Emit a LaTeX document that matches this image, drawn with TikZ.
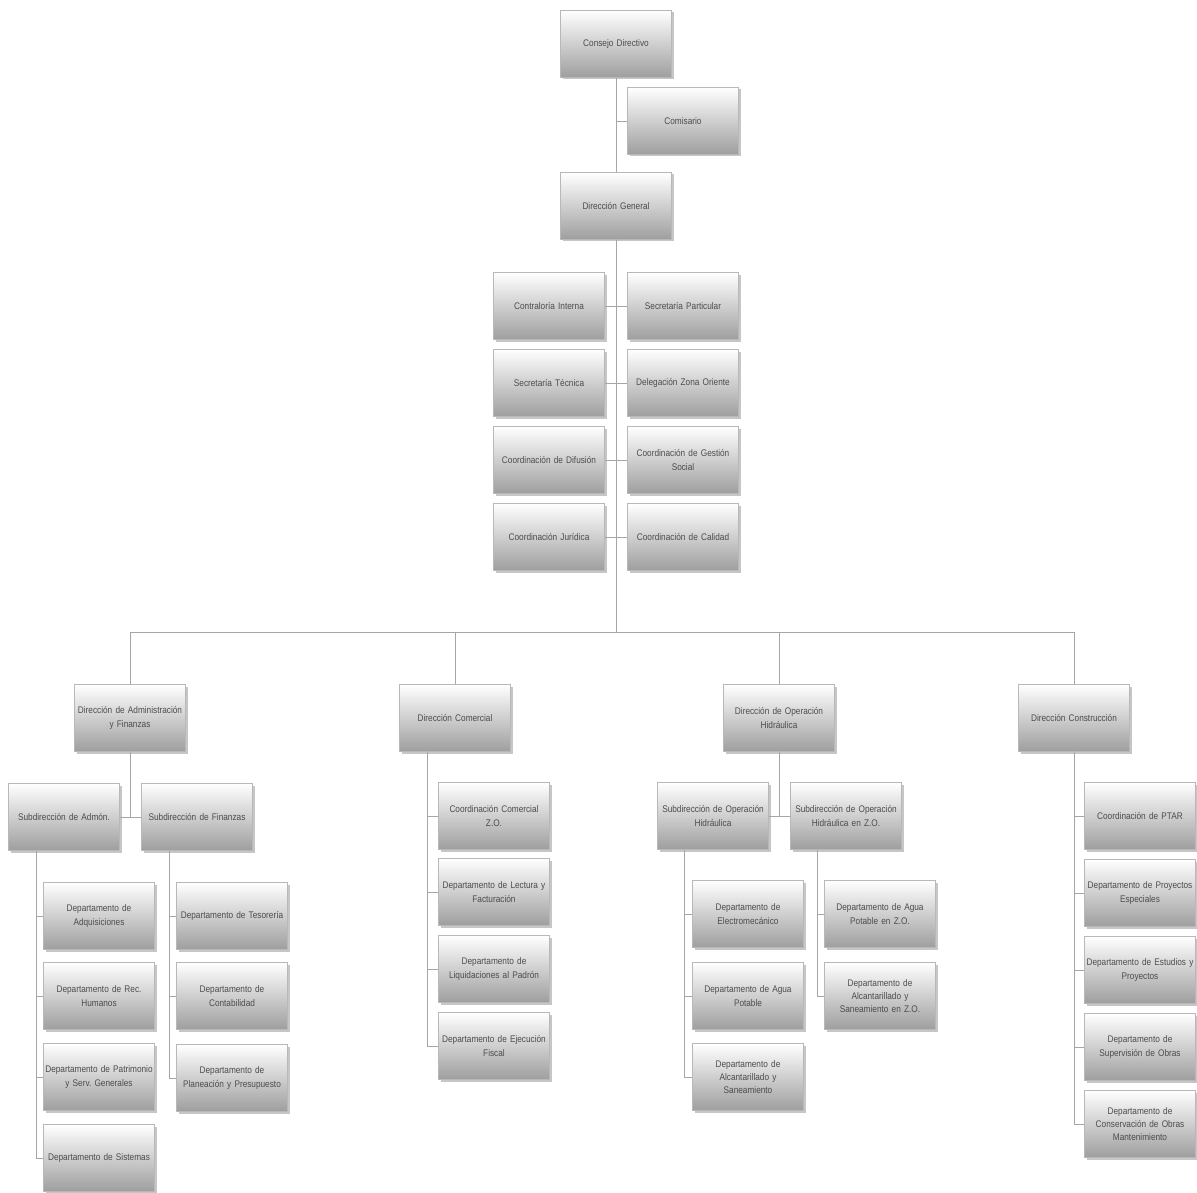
\documentclass[tikz,border=0pt]{standalone}
\usepackage{fontspec}
\setmainfont{Liberation Sans}[FakeStretch=0.86]
\frenchspacing
\usetikzlibrary{shadows,positioning}
\colorlet{gris}{black!35}
\colorlet{texto}{black!70}
\tikzset{
  caja/.style={draw=black!28, line width=0.6pt, top color=white, bottom color=black!38,
    minimum width=111pt, minimum height=67pt, text width=110pt, inner sep=0.5pt,
    align=center, text=texto, font=\fontsize{9.6}{13.3}\selectfont,
    drop shadow={shadow xshift=2pt, shadow yshift=-2pt, opacity=0.45}},
  linea/.style={draw=gris, line width=0.9pt}
}

\begin{document}
\begin{tikzpicture}[x=1pt,y=-1pt]
        \useasboundingbox (0,0) rectangle (1197,1193);
        \coordinate (bus) at (616,632);
        % cabeza
        \node [caja] (cd) at (616,44) {Consejo Directivo};
        \node [caja] (com) at (683,121) {Comisario};
        \node [caja] (dg) at (616,206) {Dirección General};
        % staff
        \node [caja] (ci) at (549,306) {Contraloría Interna};
        \node [caja] (sp) at (683,306) {Secretaría Particular};
        \node [caja] (st) at (549,383) {Secretaría Técnica};
        \node [caja] (dzo) at (683,383) {Delegación Zona Oriente};
        \node [caja] (cdf) at (549,460) {Coordinación de Difusión};
        \node [caja] (cgs) at (683,460) {Coordinación de Gestión\\ Social};
        \node [caja] (cj) at (549,537) {Coordinación Jurídica};
        \node [caja] (cc) at (683,537) {Coordinación de Calidad};
        % direcciones
        \node [caja] (da) at (130,718) {Dirección de Administración\\ y Finanzas};
        \node [caja] (dc) at (455,718) {Dirección Comercial};
        \node [caja] (doh) at (779,718) {Dirección de Operación\\ Hidráulica};
        \node [caja] (dcon) at (1074,718) {Dirección Construcción};
        % administracion y finanzas
        \node [caja] (sa) at (64,817) {Subdirección de Admón.};
        \node [caja] (sf) at (197,817) {Subdirección de Finanzas};
        \node [caja] (adq) at (99,916) {Departamento de\\ Adquisiciones};
        \node [caja] (rh) at (99,996) {Departamento de Rec.\\ Humanos};
        \node [caja] (pat) at (99,1077) {Departamento de Patrimonio\\ y Serv. Generales};
        \node [caja] (sis) at (99,1158) {Departamento de Sistemas};
        \node [caja] (tes) at (232,916) {Departamento de Tesorería};
        \node [caja] (con) at (232,996) {Departamento de\\ Contabilidad};
        \node [caja] (pp) at (232,1078) {Departamento de\\ Planeación y Presupuesto};
        % comercial
        \node [caja] (ccz) at (494,816) {Coordinación Comercial\\ Z.O.};
        \node [caja] (lf) at (494,892) {Departamento de Lectura y\\ Facturación};
        \node [caja] (lp) at (494,969) {Departamento de\\ Liquidaciones al Padrón};
        \node [caja] (ef) at (494,1046) {Departamento de Ejecución\\ Fiscal};
        % operacion hidraulica
        \node [caja] (soh) at (713,816) {Subdirección de Operación\\ Hidráulica};
        \node [caja] (sohz) at (846,816) {Subdirección de Operación\\ Hidráulica en Z.O.};
        \node [caja] (ele) at (748,914) {Departamento de\\ Electromecánico};
        \node [caja] (ap) at (748,996) {Departamento de Agua\\ Potable};
        \node [caja] (als) at (748,1077) {Departamento de\\ Alcantarillado y\\ Saneamiento};
        \node [caja] (apz) at (880,914) {Departamento de Agua\\ Potable en Z.O.};
        \node [caja] (alz) at (880,996) {Departamento de\\ Alcantarillado y\\ Saneamiento en Z.O.};
        % construccion
        \node [caja] (ptar) at (1140,816) {Coordinación de PTAR};
        \node [caja] (pe) at (1140,893) {Departamento de Proyectos\\ Especiales};
        \node [caja] (ep) at (1140,970) {Departamento de Estudios y\\ Proyectos};
        \node [caja] (so) at (1140,1047) {Departamento de\\ Supervisión de Obras};
        \node [caja] (cons) at (1140,1124) {Departamento de\\ Conservación de Obras\\ Mantenimiento};
        % lineas
        \draw [linea] (cd) -- (dg);
        \draw [linea] (com.west) -- (com.west -| cd);
        \draw [linea] (dg) -- (bus);
        \foreach \a/\b in {ci/sp,st/dzo,cdf/cgs,cj/cc}
          \draw [linea] (\a) -- (\b);
        \foreach \d in {da,dc,doh,dcon}
          \draw [linea] (bus) -| (\d);
        \draw [linea] (da) -- (da |- sa);
        \draw [linea] (sa) -- (sf);
        \draw [linea] (doh) -- (doh |- soh);
        \draw [linea] (soh) -- (sohz);
        \foreach \n in {adq,rh,pat,sis}
          \draw [linea] ([xshift=28pt]sa.south west) |- (\n);
        \foreach \n in {tes,con,pp}
          \draw [linea] ([xshift=28pt]sf.south west) |- (\n);
        \foreach \n in {ccz,lf,lp,ef}
          \draw [linea] ([xshift=28pt]dc.south west) |- (\n);
        \foreach \n in {ele,ap,als}
          \draw [linea] ([xshift=27pt]soh.south west) |- (\n);
        \foreach \n in {apz,alz}
          \draw [linea] ([xshift=27pt]sohz.south west) |- (\n);
        \foreach \n in {ptar,pe,ep,so,cons}
          \draw [linea] (dcon) |- (\n);
      \end{tikzpicture}
\end{document}
